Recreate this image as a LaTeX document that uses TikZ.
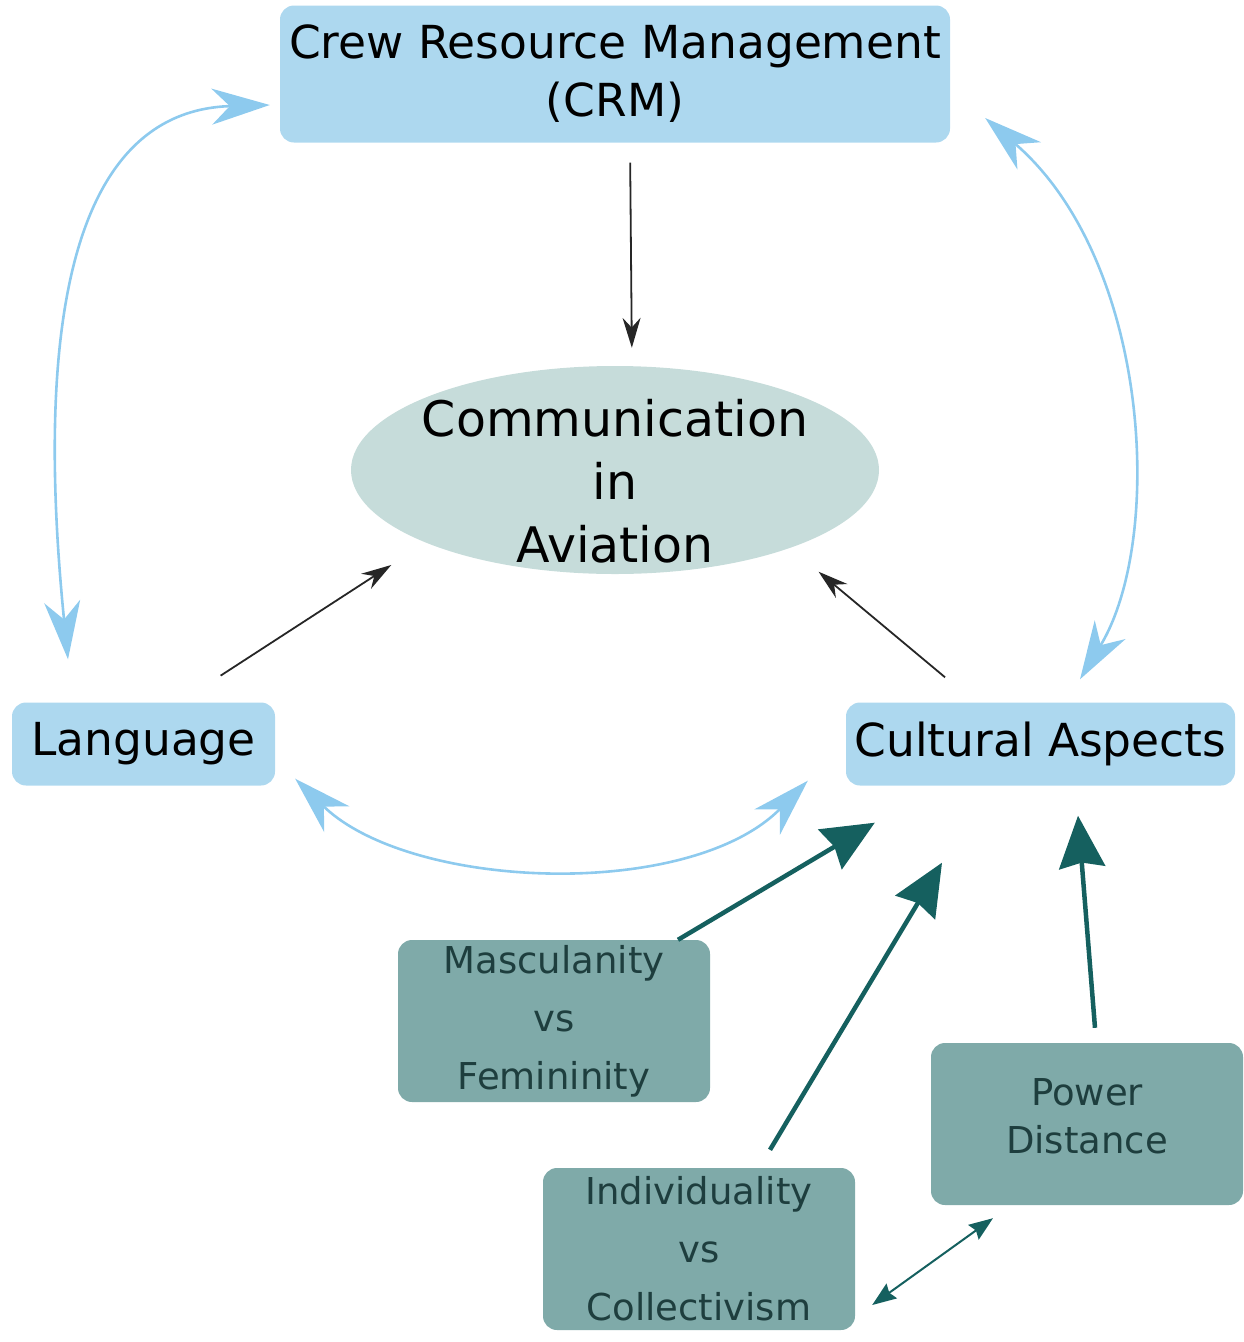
\documentclass[tikz,border=0pt]{standalone}
\usepackage{fontspec}
\setmainfont{DejaVu Sans}
\usepackage{tikz}
\usetikzlibrary{shapes,positioning,calc,arrows.meta}
\definecolor{skyfill}{HTML}{ADD8EF}
\definecolor{skyline}{HTML}{8DCAEE}
\definecolor{mistfill}{HTML}{C6DCDA}
\definecolor{tealfill}{HTML}{7FAAA9}
\definecolor{tealdark}{HTML}{15605F}
\definecolor{tealtext}{HTML}{1E3E3E}
\tikzset{
  skybox/.style args={#1,#2}{
  rectangle,
  rounded corners=14pt,
  fill=skyfill,
  minimum width=#1pt,
  minimum height=#2pt,
  align=center,
  font=\fontsize{45.5}{58}\selectfont
  },
  tealbox/.style args={#1,#2}{
  rectangle,
  rounded corners=14pt,
  fill=tealfill,
  text=tealtext,
  minimum width=#1pt,
  minimum height=#2pt,
  align=center,
  font=\fontsize{37}{58}\selectfont
  },
  mist/.style={ellipse,fill=mistfill,minimum width=528pt,minimum height=208pt,
   inner sep=0pt},
  misttext/.style={align=center,font=\fontsize{49}{63}\selectfont},
  blk/.style={-{Stealth[length=30pt,width=18pt]},line width=1.8pt,black!85},
  sky/.style={{Stealth[length=58pt,width=36pt,inset=18pt]}-{Stealth[length=58pt,width=36pt,inset=18pt]},
   line width=2.6pt,draw=skyline,fill=none},
  thick teal/.style={-{Stealth[length=52pt,width=46pt,inset=5pt]},line width=4.5pt,tealdark},
  thin teal/.style={{Stealth[length=24pt,width=18pt,inset=3pt]}-{Stealth[length=24pt,width=18pt,inset=3pt]},
   line width=2pt,tealdark}
}

\begin{document}
\begin{tikzpicture}[x=1pt,y=-1pt]
  \useasboundingbox (0,0) rectangle (1243,1342);

  \node[skybox={670,137}] (crm) at (615,74) {Crew Resource Management\\(CRM)};
  \node[mist,label={[misttext,yshift=-11pt]center:{Communication\\in\\Aviation}}] (comm) at (615,470) {};
  \node[skybox={263,83}] (lang) at (143.5,744) {Language};
  \node[skybox={389,83}] (cult) at (1040.5,744) {Cultural Aspects};

  \node[tealbox={312,162}] (masc) at (554,1021) {Masculanity\\vs\\Femininity};
  \node[tealbox={312,162},font=\fontsize{37}{48}\selectfont,text depth=16pt] (power) at (1087,1124) {Power\\Distance};
  \node[tealbox={312,162}] (indiv) at (699,1249) {Individuality\\vs\\Collectivism};

  % into the ellipse
  \draw[blk,shorten <=20pt,shorten >=18pt] ([xshift=15pt]crm.south) -- ([xshift=17pt]comm.north);
  \draw[blk,shorten <=49pt,shorten >=41pt] ([xshift=36pt]lang.north) -- (comm.201);
  \draw[blk,shorten <=39pt,shorten >=37pt] ([xshift=-65.5pt]cult.north) -- (comm.336);

  % light blue loops
  \draw[sky] ([xshift=-10pt,yshift=-31pt]crm.west)
     .. controls +(-180,5) and +(-38,-380) .. ([xshift=-75.5pt,yshift=43pt]lang.north);
  \draw[sky] ([xshift=35pt,yshift=-44pt]crm.east)
     .. controls +(165,142) and +(85,-140) .. ([xshift=39.5pt,yshift=23pt]cult.north);
  \draw[sky] ([xshift=20pt,yshift=7pt]lang.south east)
     .. controls +(115,112) and +(-118,120) .. ([xshift=-38pt,yshift=5pt]cult.south west);

  % dimensions
  \draw[thick teal] ([xshift=124pt]masc.north) -- ([xshift=29pt,yshift=-37pt]cult.south west);
  \draw[thick teal] ([xshift=71pt,yshift=18pt]indiv.north) -- ([xshift=-98.5pt,yshift=-77pt]cult.south);
  \draw[thick teal] ([xshift=8pt,yshift=15pt]power.north) -- ([xshift=37.5pt,yshift=-30pt]cult.south);
  \draw[thin teal] ([xshift=17pt,yshift=-56pt]indiv.east) -- ([xshift=-94pt,yshift=-13pt]power.south);
\end{tikzpicture}
\end{document}
